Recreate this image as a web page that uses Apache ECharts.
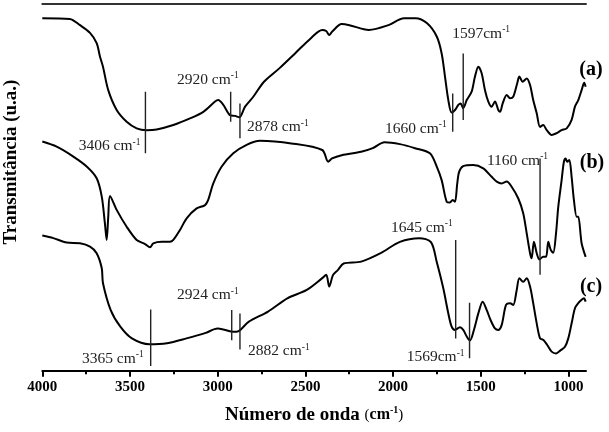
<!DOCTYPE html>
<html><head><meta charset="utf-8">
<script src="https://cdn.jsdelivr.net/npm/echarts@6/dist/echarts.min.js"></script>
<style>html,body{margin:0;padding:0;background:#fff}#c{width:609px;height:432px}</style>
</head><body><div id="c"></div>
<script>
// ---- data (wavenumber in cm-1, transmittance in arbitrary units 0-100) ----
const wnA = [4000,3843,3785,3728,3690,3671,3654,3624,3576,3519,3462,3405,3348,3253,3158,3082,3015,2997,2968,2930,2901,2877,2844,2797,2736,2647,2559,2470,2404,2381,2364,2348,2293,2249,2138,2027,1938,1872,1806,1751,1723,1704,1685,1666,1647,1628,1615,1600,1580,1552,1533,1514,1495,1476,1457,1438,1419,1400,1390,1375,1352,1333,1315,1292,1280,1261,1238,1219,1201,1181,1162,1144,1124,1096,1067,1039,1010,982,963,944,925,910,902];
const tA = [96.0,95.8,94.1,92.0,89.2,85.5,82.8,76.4,71.0,67.8,66.0,65.5,65.7,66.9,68.7,70.5,73.3,73.7,72.4,69.6,69.4,69.0,71.9,74.6,78.7,82.4,86.4,90.5,92.8,92.5,91.4,92.3,94.4,94.1,92.8,94.1,96.0,96.0,94.6,91.0,86.4,80.1,73.7,70.3,71.0,72.4,72.8,71.5,73.7,76.0,80.1,82.8,81.0,76.4,73.3,71.9,73.3,71.0,70.5,72.8,75.1,74.2,74.6,78.3,80.1,78.7,79.6,77.8,73.7,70.1,66.4,66.9,65.5,64.2,64.7,65.5,66.0,68.3,71.9,73.7,76.4,78.4,77.3];

const wnB = [4000,3918,3823,3747,3690,3661,3643,3633,3624,3614,3576,3519,3462,3414,3386,3367,3319,3272,3253,3215,3177,3120,3072,3054,3025,2977,2911,2835,2759,2580,2404,2370,2348,2293,2182,2116,2049,1961,1875,1790,1751,1723,1694,1676,1660,1647,1634,1623,1600,1543,1486,1438,1409,1381,1352,1324,1286,1258,1238,1219,1210,1197,1181,1166,1144,1128,1115,1101,1087,1071,1058,1039,1026,1016,1007,995,982,969,953,944,925,902];
const tB = [62.4,61.0,58.3,55.6,52.4,47.4,40.1,35.6,41.9,47.6,43.8,39.2,35.6,34.5,33.6,34.7,35.1,35.1,35.6,38.3,41.5,44.2,45.1,46.5,51.0,55.6,59.2,61.5,62.6,61.9,60.1,56.9,57.8,58.7,59.6,60.6,62.2,61.7,60.6,59.2,55.6,51.9,46.0,45.8,46.5,46.0,51.0,54.2,55.7,56.0,55.1,52.8,51.5,51.0,51.5,50.1,46.9,42.9,37.4,32.0,30.6,35.1,32.0,30.3,31.0,31.0,35.1,32.9,32.1,37.4,44.7,51.9,56.9,57.8,56.9,57.4,52.8,46.5,41.9,41.9,34.7,31.0];

const wnC = [4000,3937,3861,3785,3728,3690,3661,3654,3610,3555,3489,3389,3289,3178,3068,3001,2957,2913,2880,2824,2713,2603,2492,2404,2381,2364,2342,2315,2282,2182,2071,1961,1850,1784,1751,1714,1685,1666,1647,1619,1600,1580,1562,1539,1514,1489,1466,1444,1419,1400,1381,1356,1333,1315,1295,1280,1258,1238,1219,1201,1181,1162,1144,1121,1096,1071,1044,1020,1001,982,963,944,925,912,902];
const tC = [36.8,36.1,34.9,34.7,33.8,32.0,27.9,23.8,16.5,12.0,8.8,7.2,7.5,8.8,10.3,11.5,11.1,10.6,10.8,13.3,16.1,19.7,22.0,25.2,26.1,22.9,26.1,27.4,29.2,29.7,32.0,35.1,36.1,35.0,29.6,22.5,15.6,12.0,11.1,11.8,11.1,9.3,8.2,11.1,15.6,18.8,16.5,13.8,11.5,11.1,12.4,17.9,18.4,17.9,22.0,25.2,24.2,25.2,22.9,18.4,12.9,8.8,8.4,7.0,5.2,4.7,5.6,6.5,8.8,12.9,17.0,18.4,19.3,19.7,18.8];

// peak marker lines: label, wavenumber of line, top and bottom of the line (y units)
const peakLabels = ['3406 cm','2920 cm','2878 cm','1660 cm','1597cm','1160 cm','1645 cm','1569cm','2924 cm','2882 cm','3365 cm'];
const peakWn     = [3412, 2926, 2873, 1660, 1600, 1162, 1643, 1564, 2920, 2873, 3382];
const peakTop    = [76.0, 76.0, 72.8, 75.5, 86.4, 57.8, 35.6, 18.5, 16.5, 15.6, 16.7];
const peakBottom = [59.2, 67.8, 63.3, 65.1, 68.3, 26.1, 8.8, 3.4, 8.3, 5.8, 1.3];

const xTickValues = [1000,1500,2000,2500,3000,3500,4000];
const xMinorValues = [1250,1750,2250,2750,3250,3750];
const curveNames = ['(a)','(b)','(c)'];

// ---- layout / style (pixels) ----
const labelLayout = [
  {end:'bottom', dx:-5, dy:-7, align:'right'},
  {end:'top', dx:8, dy:-12, align:'right'},
  {end:'bottom', dx:7, dy:-11, align:'left'},
  {end:'bottom', dx:-6, dy:-3, align:'right'},
  {end:'top', dx:-11, dy:-20, align:'left'},
  {end:'top', dx:8, dy:2, align:'right'},
  {end:'top', dx:-3, dy:-12, align:'right'},
  {end:'bottom', dx:-5, dy:-1, align:'right'},
  {end:'top', dx:7, dy:-15, align:'right'},
  {end:'bottom', dx:8, dy:2, align:'left'},
  {end:'bottom', dx:-7, dy:-7, align:'right'}
];
const curveNamePos = [[591,70],[592,163],[591,287]];

const F = '"Liberation Serif", "Times New Roman", serif';
const zip = (w, t) => w.map((x, i) => [x, t[i]]);

const chart = echarts.init(document.getElementById('c'), null, {renderer: 'canvas'});
const xBase = {type: 'value', min: 900, max: 4000, inverse: true, splitLine: {show: false}};

const series = [];
[[wnA, tA], [wnB, tB], [wnC, tC]].forEach(([w, t]) => {
  series.push({type: 'line', data: zip(w, t), showSymbol: false, smooth: 0.3, silent: true,
    lineStyle: {color: '#000', width: 2}, z: 3});
});
peakWn.forEach((w, i) => {
  series.push({type: 'line', data: [[w, peakTop[i]], [w, peakBottom[i]]], showSymbol: false, silent: true,
    lineStyle: {color: '#222', width: 1.4}, z: 4});
});

chart.setOption({
  animation: false,
  grid: {left: 42.3, right: 23, top: 3.5, bottom: 61.3},
  xAxis: [
    Object.assign({}, xBase, {
      position: 'bottom',
      axisLine: {lineStyle: {color: '#000', width: 2}},
      axisTick: {show: true, customValues: xTickValues, length: 6, lineStyle: {color: '#000', width: 2}},
      axisLabel: {customValues: xTickValues, formatter: v => String(v), fontFamily: F, fontWeight: 'bold', fontSize: 15, color: '#000', margin: 9},
      name: '{b|Número de onda }{p|(}{c|cm}{s|-1}{p|)}',
      nameLocation: 'middle', nameGap: 35,
      nameTextStyle: {rich: {
        b: {fontFamily: F, fontWeight: 'bold', fontSize: 19, color: '#000'},
        p: {fontFamily: F, fontSize: 15, color: '#000'},
        c: {fontFamily: F, fontWeight: 'bold', fontSize: 16, color: '#000'},
        s: {fontFamily: F, fontWeight: 'bold', fontSize: 10, color: '#000', verticalAlign: 'top'}
      }}
    }),
    Object.assign({}, xBase, {
      position: 'top',
      axisLine: {lineStyle: {color: '#333', width: 2}},
      axisTick: {show: false}, axisLabel: {show: false}
    }),
    Object.assign({}, xBase, {
      position: 'bottom',
      axisLine: {show: false},
      axisTick: {show: true, customValues: xMinorValues, length: 3.5, lineStyle: {color: '#000', width: 2}},
      axisLabel: {show: false}
    })
  ],
  yAxis: {type: 'value', min: 0, max: 100, show: false},
  series: series
});

// text annotations positioned from the data coordinates of the marker lines
const graphics = [];
peakLabels.forEach((txt, i) => {
  const L = labelLayout[i];
  const p = chart.convertToPixel({xAxisIndex: 0, yAxisIndex: 0},
    [peakWn[i], L.end === 'top' ? peakTop[i] : peakBottom[i]]);
  graphics.push({type: 'text', x: p[0] + L.dx, y: p[1] + L.dy, silent: true, z: 10,
    style: {text: '{n|' + txt + '}{s|-1}', align: L.align, verticalAlign: 'middle',
      rich: {n: {fontFamily: F, fontSize: 15.5, fill: '#222', lineHeight: 18},
             s: {fontFamily: F, fontSize: 9.5, fill: '#222', verticalAlign: 'top'}}}});
});
curveNames.forEach((n, i) => {
  graphics.push({type: 'text', x: curveNamePos[i][0], y: curveNamePos[i][1], silent: true, z: 10,
    style: {text: n, font: 'bold 20px ' + F, fill: '#000', align: 'center', verticalAlign: 'middle'}});
});
graphics.push({type: 'text', x: 11, y: 162, rotation: Math.PI / 2, silent: true, z: 10,
  style: {text: 'Transmitância (u.a.)', font: 'bold 19px ' + F, fill: '#000', align: 'center', verticalAlign: 'middle'}});
chart.setOption({graphic: graphics});
</script></body></html>
